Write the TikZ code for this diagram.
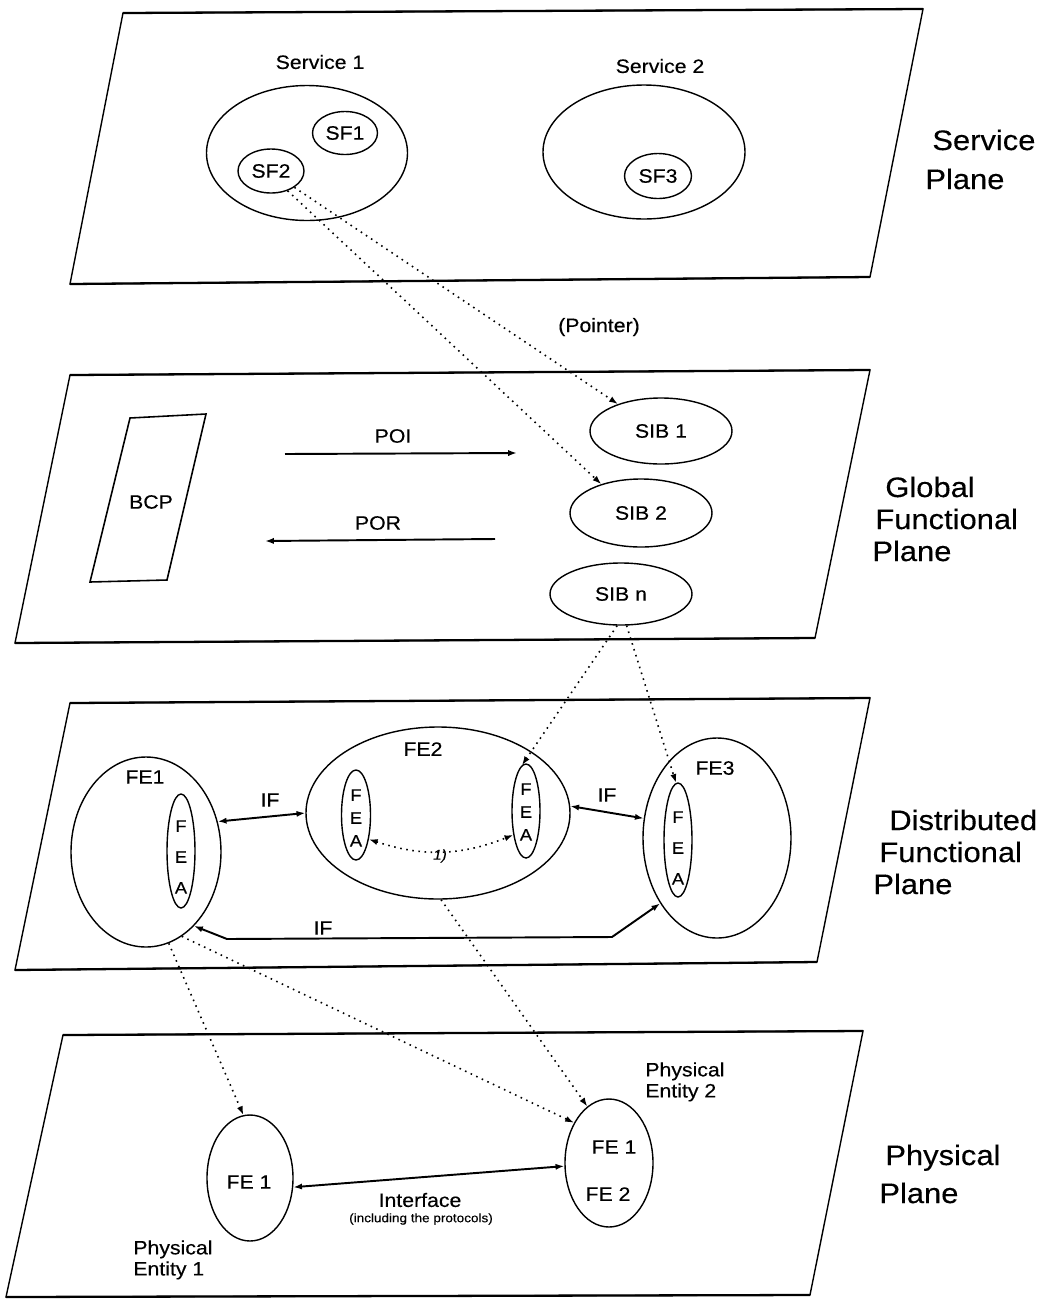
\documentclass[tikz,border=0pt]{standalone}
\usepackage{fontspec}
\setmainfont{Liberation Sans}[FakeStretch=1.1,FakeBold=0.3]
\usetikzlibrary{shapes.geometric,arrows.meta}
\newlength\px \setlength\px{0.02cm}
\begin{document}
\begin{tikzpicture}[x=0.02cm, y=-0.02cm,
  ell/.style={draw, ellipse, inner sep=0pt, line width=0.8pt, font=\fontsize{11}{12}\selectfont},
  planeside/.style={line width=0.8pt},
  planeedge/.style={line width=1.3pt},
  lbl/.style={font=\fontsize{11}{12}\selectfont, inner sep=0pt},
  big/.style={font=\fontsize{16}{18}\selectfont, anchor=base west, inner sep=0pt},
  fealetters/.style={font=\fontsize{9.5}{#1}\selectfont, align=center, inner sep=0pt},
  dot/.style={line width=0.9pt, dash pattern=on 0.9pt off 2.6pt, -{Latex[length=5pt,width=3.5pt]}},
  dotb/.style={line width=0.9pt, dash pattern=on 0.9pt off 2.6pt, {Latex[length=5pt,width=3.5pt]}-{Latex[length=5pt,width=3.5pt]}},
  arr/.style={line width=1.1pt, {Latex[length=5pt,width=3.5pt]}-{Latex[length=5pt,width=3.5pt]}},
  arrone/.style={line width=1.1pt, -{Latex[length=5pt,width=3.5pt]}}
]
\fill[white] (0,0) rectangle (1047,1299);
\useasboundingbox (0,0) rectangle (1047,1299);

% ---------- planes ----------
\draw[planeside] (123,13) -- (923,9) -- (870,277) -- (70,284) -- cycle;
\draw[planeedge] (123,13) -- (923,9) (870,277) -- (70,284);
\draw[planeside] (70,375) -- (870,370) -- (815,638) -- (15,643) -- cycle;
\draw[planeedge] (70,375) -- (870,370) (815,638) -- (15,643);
\draw[planeside] (70,703) -- (870,698) -- (817,962) -- (15,970) -- cycle;
\draw[planeedge] (70,703) -- (870,698) (817,962) -- (15,970);
\draw[planeside] (63,1035) -- (863,1031) -- (810,1295) -- (6,1297) -- cycle;
\draw[planeedge] (63,1035) -- (863,1031) (810,1295) -- (6,1297);

% ---------- plane labels ----------
\node[big] (lsp1) at (932,150) {Service};
\node[big] (lsp2) at (925,189) {Plane};
\node[big] (lgf1) at (885,497) {Global};
\node[big] (lgf2) at (875,529) {Functional};
\node[big] (lgf3) at (872,561) {Plane};
\node[big] (ldf1) at (889,830) {Distributed};
\node[big] (ldf2) at (879,862) {Functional};
\node[big] (ldf3) at (873,894) {Plane};
\node[big] (lpp1) at (885,1165) {Physical};
\node[big] (lpp2) at (879,1203) {Plane};

% ---------- service plane ----------
\node[lbl] (ts1) at (320,62) {Service 1};
\node[lbl] (ts2) at (660,66) {Service 2};
\node[ell, minimum width=201\px, minimum height=135\px] (svc1) at (307,153) {};
\node[ell, minimum width=202\px, minimum height=134\px] (svc2) at (644,152) {};
\node[ell, minimum width=65\px, minimum height=43\px] (sf1) at (345,133) {SF1};
\node[ell, minimum width=66\px, minimum height=44\px] (sf2) at (271,171) {SF2};
\node[ell, minimum width=67\px, minimum height=45\px] (sf3) at (658,176) {SF3};
\node[lbl] (tptr) at (599,327) {(Pointer)};

% ---------- global functional plane ----------
\draw[line width=0.9pt] (130,418) -- (206,414) -- (167,580) -- (90,582) -- cycle;
\node[lbl] (bcp) at (151,502) {BCP};
\node[lbl] (tpoi) at (393,436) {POI};
\node[lbl] (tpor) at (378,523) {POR};
\coordinate (poia) at (285,454);
\coordinate (poib) at (517,453);
\coordinate (pora) at (495,539);
\coordinate (porb) at (265,541);
\draw[arrone] (poia) -- (poib);
\draw[arrone] (pora) -- (porb);
\node[ell, minimum width=142\px, minimum height=66\px] (sib1) at (661,431) {SIB 1};
\node[ell, minimum width=142\px, minimum height=68\px] (sib2) at (641,513) {SIB 2};
\node[ell, minimum width=142\px, minimum height=62\px] (sibn) at (621,594) {SIB n};

% ---------- distributed functional plane ----------
\node[ell, minimum width=150\px, minimum height=190\px] (fe1) at (146,852) {};
\node[ell, minimum width=28\px, minimum height=114\px] (fea1) at (181,851) {};
\node[ell, minimum width=264\px, minimum height=172\px] (fe2) at (438,813) {};
\node[ell, minimum width=29\px, minimum height=90\px] (fea2a) at (356,815) {};
\node[ell, minimum width=28\px, minimum height=94\px] (fea2b) at (526,811) {};
\node[ell, minimum width=148\px, minimum height=200\px] (fe3) at (717,838) {};
\node[ell, minimum width=28\px, minimum height=114\px] (fea3) at (678,840) {};
\node[lbl] (tfe1) at (145,777) {FE1};
\node[lbl] (tfe2) at (423,749) {FE2};
\node[lbl] (tfe3) at (715,768) {FE3};
\node[fealetters=17.6pt] (lfea1) at (181,857) {F\\E\\A};
\node[fealetters=13pt] (lfea2a) at (356,818) {F\\E\\A};
\node[fealetters=13pt] (lfea2b) at (526,812) {F\\E\\A};
\node[fealetters=17.6pt] (lfea3) at (678,848) {F\\E\\A};
\node[lbl] (tif1) at (270,800) {IF};
\node[lbl] (tif2) at (607,795) {IF};
\node[lbl] (tif3) at (323,928) {IF};
\node[font=\itshape\fontsize{8}{9}\selectfont, inner sep=0pt] (tone) at (440,856) {1)};
\coordinate (ifa) at (612,937);
\coordinate (ifb) at (227,939);
\draw[arr] (fe1.23) -- (fe2.180);
\draw[arr] (fe2.3) -- (fe3.165);
\draw[arr] (fe3.229) -- (ifa) -- (ifb) -- (fe1.-57);
\draw[dotb] (fea2a.-62) to[bend right=20] (fea2b.-118);

% ---------- physical plane ----------
\node[ell, minimum width=86\px, minimum height=126\px] (pe1) at (250,1178) {};
\node[ell, minimum width=88\px, minimum height=128\px] (pe2) at (609,1163) {};
\node[lbl] (tpe1) at (249,1182) {FE 1};
\node[lbl] (tpe2a) at (614,1147) {FE 1};
\node[lbl] (tpe2b) at (608,1194) {FE 2};
\node[lbl, align=left, anchor=north west] (tphys2) at (645,1062) {Physical\\Entity 2};
\node[lbl, align=left, anchor=north west] (tphys1) at (133,1240) {Physical\\Entity 1};
\node[lbl] (tintf) at (420,1200) {Interface};
\node[font=\fontsize{7}{8}\selectfont, inner sep=0pt] (tprot) at (421,1219) {(including the protocols)};
\draw[arr] (pe1.-12) -- (pe2.184);

% ---------- dotted pointers between planes ----------
\draw[dot] (sf2.-35) -- (sib1.148);
\draw[dot] (sf2.-50) -- (sib2.144);
\draw[dot] (sibn.-97) -- (fea2b.95);
\draw[dot] (sibn.-80) -- (fea3.92);
\draw[dot] (fe1.-76) -- (pe1.96);
\draw[dot] (fe1.-67) -- (pe2.131);
\draw[dot] (fe2.-88) -- (pe2.111);
\end{tikzpicture}
\end{document}
